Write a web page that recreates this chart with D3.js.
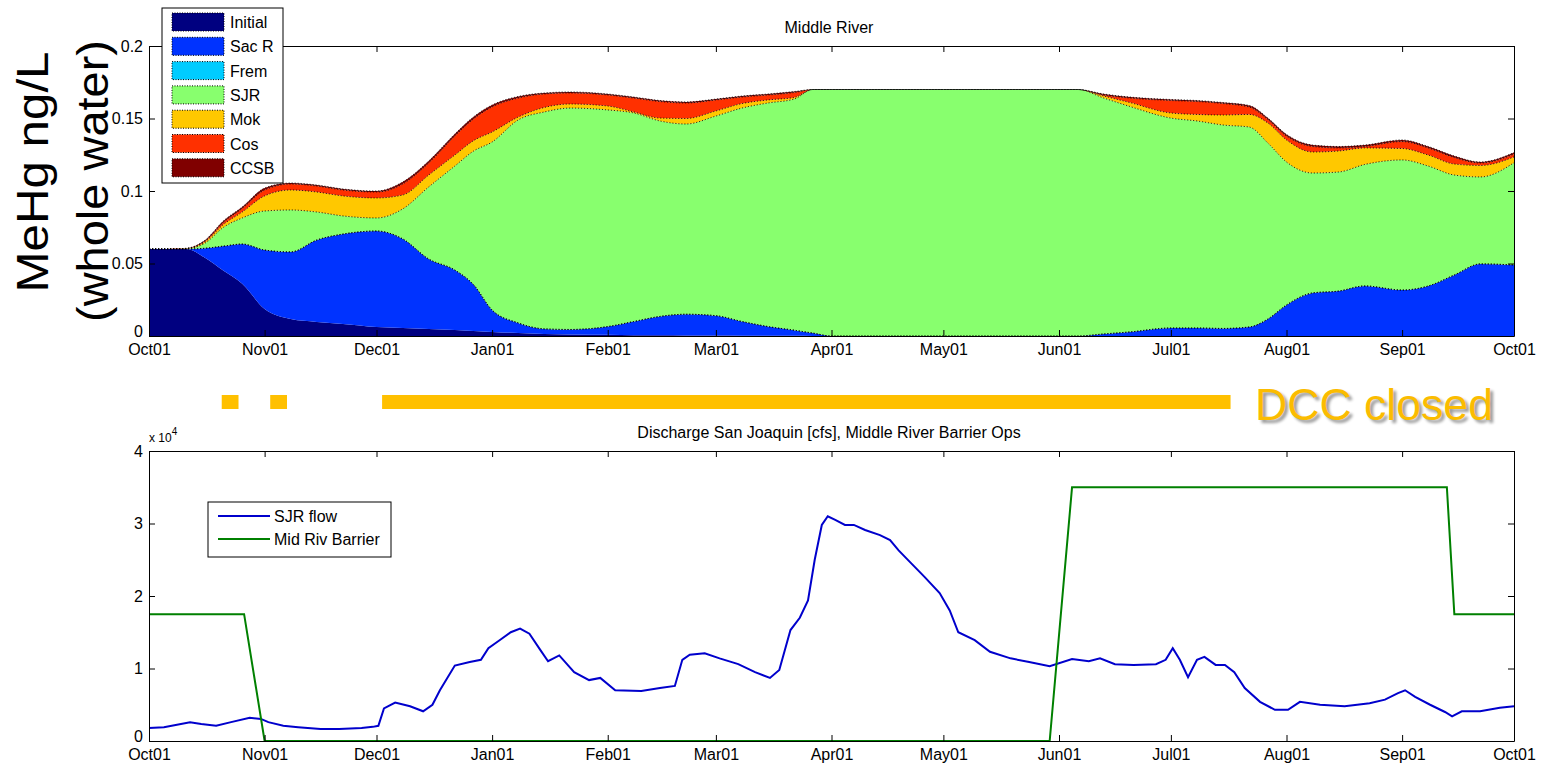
<!DOCTYPE html>
<html><head><meta charset="utf-8">
<script src="https://cdn.jsdelivr.net/npm/d3@7"></script>
<style>
body{margin:0;background:#fff}
svg text{font-family:"Liberation Sans",Arial,sans-serif}
</style>
</head><body>
<svg id="c" width="1548" height="766"></svg>
<script>
// ---------- DATA ----------
const seriesNames  = ["Initial","Sac R","Frem","SJR","Mok","Cos","CCSB"];
const seriesColors = ["#000080","#0033ff","#00ccff","#88ff6e","#ffc800","#ff3000","#800000"];

// day offset from Oct 01 (water year Oct 2003 - Oct 2004)
const days = [0,5,10,15,20,25,31,38,45,52,61,68,75,82,87,92,99,106,113,123,130,137,144,152,159,166,173,178,183,213,244,249,256,263,274,281,288,295,300,305,312,319,326,336,343,350,357,366];
const initial = [.06,.06,.06,.054,.045,.036,.0186,.0117,.0097,.0083,.0062,.0055,.0048,.0041,.0035,.0028,.0021,.0014,.001,.0008,.0006,.0005,.0004,.0003,.0002,.0002,.0001,0,0,0,0,0,0,0,0,0,0,0,0,0,0,0,0,0,0,0,0,0];
const sacR    = [0,0,0,.0065,.017,.0274,.0407,.0463,.0565,.062,.0662,.0615,.0483,.0414,.0320,.0151,.0069,.0035,.0035,.0057,.0094,.013,.0146,.0137,.0098,.0063,.0039,.002,0,0,0,0,.0014,.0028,.0055,.0055,.0052,.0062,.0117,.0214,.0297,.031,.0345,.0317,.0345,.0421,.0497,.049];
const frem    = [0,0,0,0,0,0,0,0,0,0,0,0,0,0,0,0,0,0,0,0,0,0,0,0,0,0,0,0,0,0,0,0,0,0,0,0,0,0,0,0,0,0,0,0,0,0,0,0];
const sjr     = [0,0,.0002,.0035,.013,.018,.0269,.0289,.0193,.0125,.009,.0206,.0497,.0717,.0920,.1159,.14,.1496,.1527,.1494,.1438,.1348,.1312,.1377,.1472,.1542,.1594,.168,.17,.17,.17,.17,.1627,.1555,.1448,.1428,.1403,.1379,.1214,.0986,.0827,.0821,.0838,.0897,.0827,.0689,.06,.0705];
const mok     = [0,0,.0001,.001,.002,.0041,.0104,.0138,.0138,.0138,.0138,.0096,.0082,.0076,.0072,.0069,.002,.0031,.0028,.0027,.0007,.002,.0038,.0035,.0031,.0021,.0011,0,0,0,0,0,.0014,.0027,.0035,.0045,.0069,.0087,.0138,.0152,.0145,.0145,.0114,.0079,.0076,.0076,.0079,.004];
const cos     = [0,0,.0001,.0005,.0015,.0025,.0041,.0041,.0041,.0041,.0041,.0076,.0083,.0131,.0150,.0173,.0131,.0093,.0076,.0076,.0096,.0114,.0107,.0076,.0045,.0034,.0034,0,0,0,0,0,.0007,.0031,.0086,.0089,.0079,.0051,.0024,.0027,.0038,.0021,.001,.0048,.0049,.0045,.0017,.002];
const ccsb    = [0,0,.0001,.0005,.001,.001,.0013,.0007,.0007,.0007,.0007,.0014,.0014,.0014,.0014,.0013,.0011,.0007,.0007,.0007,.0007,.0007,.0007,.0006,.0007,.0007,.0007,0,0,0,0,0,.0007,.0007,.0007,.0007,.0007,.0011,.001,.0011,.001,.001,.001,.0011,.001,.001,.0007,.001];

const flowDays = [0,4,11,14,18,22,27,30,32,36,40,46,51,57,60,61.5,63,66,70,73.5,76,78,82,86,89,91,94,97,99.5,102,105,107,110,114,118,121,125,132,137,141,143,145,149,153,158,162.5,166.5,169,172,174.5,176.7,178.5,180.4,182,184,186.6,189,192,196,198.7,201,204,208,212,214.7,217,221.4,225.5,231,236,241.5,247.5,252,255,259,264,270,272.6,274.5,276.4,278.6,281,283,286,288.5,291,293.8,297.9,301.9,305.4,308.6,314,320.6,327.3,331.4,334.9,336.8,339.5,343.5,347.5,349.4,352,356.9,362.2,366];
const sjrFlow  = [1800,1900,2600,2350,2100,2600,3200,3050,2600,2100,1900,1650,1650,1800,1950,2100,4500,5300,4800,4100,5000,7000,10400,10900,11200,12800,13900,15000,15500,14800,12500,11000,11800,9500,8400,8700,7000,6900,7300,7600,11200,11900,12100,11400,10600,9500,8700,9800,15300,17000,19400,25000,29800,31000,30500,29800,29800,29100,28400,27700,26300,24700,22600,20400,18000,15000,13900,12300,11400,10900,10300,11300,11000,11400,10600,10500,10600,11200,12800,11200,8800,11200,11600,10500,10500,9500,7300,5400,4300,4300,5400,5000,4800,5200,5700,6600,7000,6100,5000,4000,3400,4100,4100,4600,4800];
const barrierDays = [0,25.5,31,241.5,247.5,348,350,366];
const barrierFlow = [17500,17500,0,0,35000,35000,17500,17500];

const dccClosed = [[19.5,24],[32.5,37],[62.5,290]];
const concTicks = [0,0.05,0.1,0.15,0.2];
const flowTicks = [0,10000,20000,30000,40000];
const flowLegend = ["SJR flow","Mid Riv Barrier"];

// ---------- SETUP ----------
const svg = d3.select("#c");
const start = Date.UTC(2003,9,1);
const toDate = d => new Date(start + d*864e5);
const x = d3.scaleUtc().domain([toDate(0), toDate(366)]).range([149,1514]);
const yTop = d3.scaleLinear().domain([0,0.2]).range([336,46]);
const yBot = d3.scaleLinear().domain([0,40000]).range([741,451]);

svg.append("rect").attr("width",1548).attr("height",766).attr("fill","#fff");

// ---------- TOP: stacked area ----------
const seriesArrays = [initial,sacR,frem,sjr,mok,cos,ccsb];
const rows = days.map((d,i)=>{
  const r = {date: toDate(d)};
  seriesNames.forEach((n,k)=> r[n] = seriesArrays[k][i]);
  return r;
});
const stack = d3.stack().keys(seriesNames)(rows);
const curve = d3.curveMonotoneX;
const area = d3.area().x(d=>x(d.data.date)).y0(d=>yTop(d[0])).y1(d=>yTop(d[1])).curve(curve);
const topLine = d3.line().x(d=>x(d.data.date)).y(d=>yTop(d[1])).curve(curve);

const gTop = svg.append("g");
gTop.selectAll("path.area").data(stack).join("path")
  .attr("class","area").attr("d",area).attr("fill",(d,i)=>seriesColors[i]);
gTop.selectAll("path.edge").data(stack.slice(1)).join("path")
  .attr("class","edge").attr("d",topLine).attr("fill","none")
  .attr("stroke","#000").attr("stroke-width",1).attr("stroke-dasharray","1.2,1.8").attr("opacity",0.8);

function drawAxes(y, top, bottom, ticks, fmt){
  const g = svg.append("g");
  g.append("g").attr("transform",`translate(0,${bottom})`)
    .call(d3.axisBottom(x).ticks(d3.utcMonth.every(1)).tickFormat(d3.utcFormat("%b%d"))
      .tickSizeInner(-6).tickSizeOuter(0).tickPadding(8));
  g.append("g").attr("transform",`translate(0,${top})`)
    .call(d3.axisTop(x).ticks(d3.utcMonth.every(1)).tickFormat("").tickSizeInner(-6).tickSizeOuter(0));
  const left = g.append("g").attr("transform",`translate(${x.range()[0]},0)`)
    .call(d3.axisLeft(y).tickValues(ticks).tickFormat(fmt).tickSizeInner(-6).tickSizeOuter(0).tickPadding(6));
  left.selectAll(".tick").filter(d=>d===0).select("text").attr("dy","0.05em");
  g.append("g").attr("transform",`translate(${x.range()[1]},0)`)
    .call(d3.axisRight(y).tickValues(ticks).tickFormat("").tickSizeInner(-6).tickSizeOuter(0));
  g.selectAll(".domain,.tick line").attr("stroke","#000");
  g.selectAll("text").attr("font-size",16).attr("fill","#000")
    .attr("font-family",'"Liberation Sans",Arial,sans-serif');
  return g;
}
drawAxes(yTop, 46, 336, concTicks, d=>String(d));

svg.append("text").attr("x",829).attr("y",33).attr("text-anchor","middle")
  .attr("font-size",16).text("Middle River");

// legend top
const lg = svg.append("g");
lg.append("rect").attr("x",162).attr("y",8).attr("width",121).attr("height",175)
  .attr("fill","#fff").attr("stroke","#000");
seriesNames.forEach((n,i)=>{
  const cy = 22 + i*24.3;
  lg.append("rect").attr("x",172).attr("y",cy-9).attr("width",52).attr("height",18)
    .attr("fill",seriesColors[i]).attr("stroke","#000").attr("stroke-dasharray","1,1.5");
  lg.append("text").attr("x",230).attr("y",cy+6).attr("font-size",16).text(n);
});

// y label
svg.append("text").attr("transform","translate(48,172) rotate(-90)").attr("text-anchor","middle")
  .attr("font-family","Lato, 'Open Sans', sans-serif").attr("font-size",44)
  .attr("textLength",241).attr("lengthAdjust","spacingAndGlyphs").text("MeHg ng/L");
svg.append("text").attr("transform","translate(108,181) rotate(-90)").attr("text-anchor","middle")
  .attr("font-family","Lato, 'Open Sans', sans-serif").attr("font-size",44)
  .attr("textLength",282).attr("lengthAdjust","spacingAndGlyphs").text("(whole water)");

// DCC closed bars
svg.selectAll("rect.dcc").data(dccClosed).join("rect").attr("class","dcc")
  .attr("x",d=>x(toDate(d[0]))).attr("width",d=>x(toDate(d[1]))-x(toDate(d[0])))
  .attr("y",395).attr("height",14).attr("fill","#ffc000");
const defs = svg.append("defs");
defs.append("filter").attr("id","sh").append("feGaussianBlur").attr("stdDeviation",1.5);
svg.append("text").attr("x",1258).attr("y",423).attr("font-family","Lato, sans-serif").attr("font-size",44)
  .attr("textLength",238).attr("lengthAdjust","spacingAndGlyphs")
  .attr("fill","#000").attr("opacity",0.4).attr("filter","url(#sh)").text("DCC closed");
svg.append("text").attr("x",1255).attr("y",420).attr("font-family","Lato, sans-serif").attr("font-size",44)
  .attr("textLength",238).attr("lengthAdjust","spacingAndGlyphs")
  .attr("fill","#fbbc00").text("DCC closed");

// ---------- BOTTOM: flows ----------
const gBot = svg.append("g");
const flowLine = d3.line().x(d=>x(toDate(d[0]))).y(d=>yBot(d[1]));
gBot.append("path").attr("d",flowLine(flowDays.map((d,i)=>[d,sjrFlow[i]])))
  .attr("fill","none").attr("stroke","#0000cc").attr("stroke-width",2);
gBot.append("path").attr("d",flowLine(barrierDays.map((d,i)=>[d,barrierFlow[i]])))
  .attr("fill","none").attr("stroke","#008000").attr("stroke-width",2);

drawAxes(yBot, 451, 741, flowTicks, d=>String(d/10000));

svg.append("text").attr("x",829).attr("y",438).attr("text-anchor","middle")
  .attr("font-size",16).text("Discharge San Joaquin [cfs], Middle River Barrier Ops");
const ex = svg.append("text").attr("x",149).attr("y",442).attr("font-size",12);
ex.append("tspan").text("x 10");
ex.append("tspan").attr("dy",-7).attr("font-size",10).text("4");

// legend bottom
const lb = svg.append("g");
lb.append("rect").attr("x",208).attr("y",502).attr("width",183).attr("height",55)
  .attr("fill","#fff").attr("stroke","#000");
const lbColors = ["#0000cc","#008000"];
flowLegend.forEach((n,i)=>{
  const cy = 516 + i*23;
  lb.append("line").attr("x1",218).attr("x2",270).attr("y1",cy).attr("y2",cy)
    .attr("stroke",lbColors[i]).attr("stroke-width",2);
  lb.append("text").attr("x",274).attr("y",cy+6).attr("font-size",16).text(n);
});
</script>
</body></html>
